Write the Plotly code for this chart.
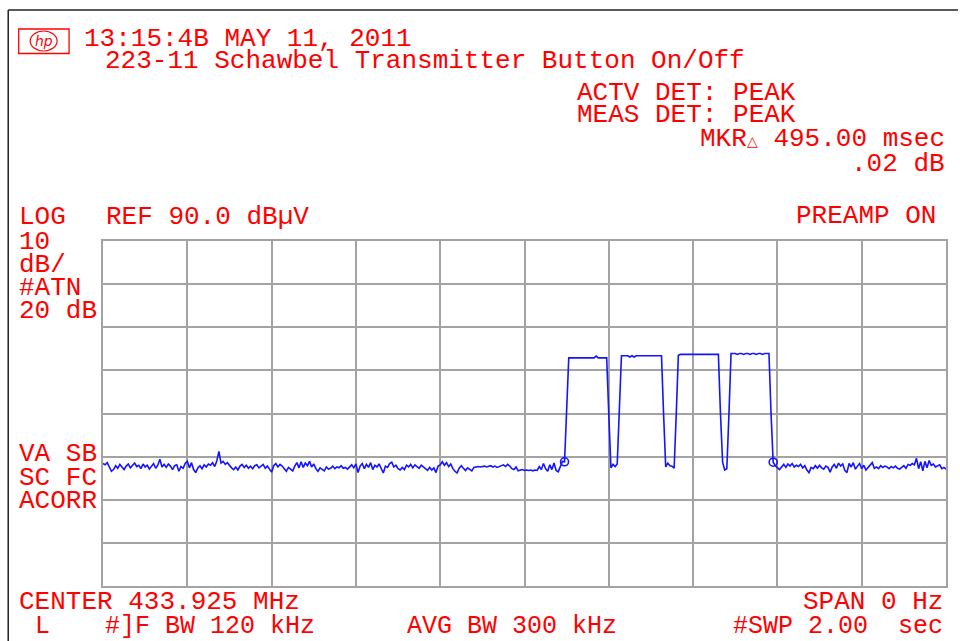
import numpy as np
import plotly.graph_objects as go

# ---------------- data ----------------
REF_LEVEL = 90.0          # dBuV, top of screen
DB_PER_DIV = 10
N_DIV_Y = 8
SWEEP_S = 2.00            # zero-span sweep time
N_POINTS = 401

# trace levels (dBuV), one per sweep point
noise_before = [
    38.4, 38.1, 38.6, 37.5, 36.6, 37.0, 37.9, 37.3, 38.2, 37.6,
    37.0, 37.8, 38.3, 37.4, 37.9, 38.5, 37.7, 38.0, 37.2, 38.3,
    37.6, 38.0, 37.1, 37.8, 38.4, 37.3, 38.0, 39.4, 37.6, 38.2,
    37.5, 38.3, 37.8, 37.0, 37.9, 38.1, 36.6, 37.7, 37.3, 38.4,
    38.9, 37.4, 38.6, 37.0, 36.3, 37.4, 37.9, 37.2, 38.1, 37.6,
    38.3, 38.0, 38.6, 37.7, 39.0, 41.2, 38.5, 38.9, 38.2, 38.6,
    37.9, 37.4, 37.0, 37.6, 36.9, 37.8, 38.2, 37.5, 38.0, 37.3,
    37.8, 37.2, 37.9, 38.1, 37.4, 37.7, 38.2, 37.3, 37.8, 37.1,
    36.4, 37.9, 38.4, 37.6, 38.2, 37.8, 37.3, 36.6, 37.5, 37.0,
    36.7, 37.8, 38.6, 37.4, 38.8, 37.5, 38.5, 37.9, 38.9, 37.6,
    38.3, 37.2, 36.6, 37.4, 37.0, 36.7, 37.6, 37.1, 37.3, 37.8,
    37.2, 37.6, 37.4, 37.9, 37.3, 37.5, 37.1, 37.7, 38.1, 37.4,
    38.3, 36.3, 37.8, 38.4, 37.2, 38.2, 37.5, 38.6, 37.0, 38.0,
    37.6, 38.3, 37.4, 36.2, 37.8, 37.5, 38.4, 38.7, 37.6, 38.0,
    37.2, 36.9, 37.5, 37.0, 38.0, 37.6, 38.2, 37.4, 38.1, 37.8,
    37.3, 38.0, 37.6, 37.2, 36.8, 37.5, 36.9, 37.4, 36.3, 37.8,
    38.1, 38.8, 38.0, 38.6, 37.7, 38.3, 37.2, 36.6, 36.2, 37.3,
    37.9, 37.3, 36.8, 37.4, 37.0, 36.7, 37.5, 37.6, 37.7, 37.6,
    37.7, 37.8, 37.6, 37.7, 37.9, 37.6, 37.8, 37.5, 37.7, 37.9,
    38.1, 37.7, 38.2, 37.8, 37.2, 37.0, 37.6, 36.7, 36.9, 37.0,
    36.8, 36.9, 36.8, 36.9, 36.7, 36.9, 36.8, 37.7, 37.0, 38.4,
    37.2, 36.6, 38.1, 37.0, 38.5, 36.8, 36.5, 37.6, 38.9, 38.8,
]
edge = [49.8]
pulse_1 = [62.9] * 13 + [63.3] + [62.9] * 5
gap_1 = [37.4, 38.2, 37.7, 38.3]
pulse_2 = [63.4, 63.4, 63.4, 63.4, 63.1, 63.4, 63.1, 63.4, 63.4, 63.4,
           63.4, 63.4, 63.4, 63.4, 63.4, 63.4, 63.4, 63.4, 63.4, 63.4]
gap_2 = [37.6, 38.5, 37.9, 37.8, 37.3]
pulse_3 = [63.5] + [63.7] * 19
gap_3 = [38.7, 36.9, 37.2]
pulse_4 = [63.9, 63.9, 63.9, 63.7, 63.9, 63.9, 63.7, 63.9, 63.9, 63.7,
           63.9, 63.9, 63.7, 63.9, 63.9, 63.7, 63.9, 63.9, 63.9]
marker_2_level = [38.7]
noise_after = [
    37.9, 37.4, 37.0, 37.6, 38.2, 37.5, 38.3, 37.8, 38.4, 37.6, 38.0,
    37.7, 38.2, 37.4, 37.9, 36.9, 36.3, 37.5, 37.2, 37.9, 37.3,
    38.0, 37.4, 37.1, 37.8, 37.5, 36.4, 37.6, 38.2, 37.3, 38.5,
    37.8, 38.3, 36.8, 36.3, 38.4, 37.6, 38.6, 37.1, 37.8, 38.4,
    37.2, 38.0, 36.9, 37.5, 38.1, 38.6, 37.3, 37.6, 37.2, 37.9,
    37.5, 37.8, 37.6, 37.2, 37.7, 37.4, 37.8, 37.3, 37.1, 37.6,
    37.9, 37.3, 38.2, 38.0, 38.4, 38.1, 39.6, 37.2, 38.8, 36.7,
    38.9, 37.4, 39.1, 38.0, 38.3, 37.6, 37.9, 38.1, 37.2, 37.5, 37.1,
]

level = (noise_before + edge + pulse_1 + edge + gap_1 + edge + pulse_2 + edge
         + gap_2 + edge + pulse_3 + edge + gap_3 + edge + pulse_4 + edge
         + marker_2_level + noise_after)
assert len(level) == N_POINTS, len(level)

time_s = np.linspace(0, SWEEP_S, N_POINTS)   # sweep-point times
marker_idx = [219, 318]                       # MKR and delta marker

# ---------------- figure ----------------
RED = "#ff0000"
BLUE = "#1414ff"
GRID = "#a3a3a3"
FONT = "Liberation Mono"

L, R, T, B = 103, 12, 241, 55
W, H = 960, 641
PW, PH = W - L - R, H - T - B


def px(x):
    return (x - L) / PW


def py(y):
    return (H - B - y) / PH


fig = go.Figure()
fig.add_trace(go.Scatter(x=time_s, y=level, mode="lines",
                         line=dict(color=BLUE, width=1.6), hoverinfo="skip"))
fig.add_trace(go.Scatter(x=[time_s[i] for i in marker_idx],
                         y=[level[i] for i in marker_idx], mode="markers",
                         marker=dict(symbol="circle-open", size=8, color=BLUE,
                                     line=dict(width=1.6, color=BLUE)),
                         hoverinfo="skip"))

axis_common = dict(showgrid=True, gridcolor=GRID, gridwidth=2,
                   showline=True, mirror=True, linecolor=GRID, linewidth=2,
                   showticklabels=False, ticks="", zeroline=False, fixedrange=True)
fig.update_xaxes(range=[0, SWEEP_S], dtick=SWEEP_S / 10, tick0=0, **axis_common)
fig.update_yaxes(range=[REF_LEVEL - DB_PER_DIV * N_DIV_Y, REF_LEVEL],
                 dtick=DB_PER_DIV, tick0=10, **axis_common)

ann = []


def txt(s, x, y, anchor="left", size=26):
    ann.append(dict(text=s, x=px(x), y=py(y), xref="paper", yref="paper",
                    xanchor=anchor, yanchor="middle", showarrow=False,
                    font=dict(family=FONT, size=size, color=RED)))


txt("13:15:4B MAY 11, 2011", 82, 39)
txt("223-11 Schawbel Transmitter Button On/Off", 103, 61)
txt("ACTV DET: PEAK", 576, 93)
txt("MEAS DET: PEAK", 576, 115)
txt("MKR<span style='font-size:14px'>△</span> 495.00 msec", 949, 139, anchor="right")
txt(".02 dB", 949, 164, anchor="right")
txt("LOG", 17, 217)
txt("REF 90.0 dBµV", 104, 217)
txt("PREAMP ON", 940, 216, anchor="right")
txt("10", 17, 242)
txt("dB/", 17, 265)
txt("#ATN", 17, 288)
txt("20 dB", 17, 311)
txt("VA SB", 17, 454)
txt("SC FC", 17, 478)
txt("ACORR", 17, 501)
txt("CENTER 433.925 MHz", 17, 602)
txt("SPAN 0 Hz", 947, 602, anchor="right")
txt("L", 33, 626, size=25)
txt("#]F BW 120 kHz", 103, 626, size=25)
txt("AVG BW 300 kHz", 406, 626, size=25)
txt("#SWP 2.00  sec", 947, 626, anchor="right", size=25)
ann.append(dict(text="<i>hp</i>", x=px(43.5), y=py(41), xref="paper", yref="paper",
                xanchor="center", yanchor="middle", showarrow=False,
                font=dict(family="DejaVu Sans", size=14, color=RED)))

shapes = [
    # outer frame
    dict(type="line", xref="paper", yref="paper", x0=px(8), x1=px(8),
         y0=py(10), y1=py(645), line=dict(color="#222222", width=1.5)),
    dict(type="line", xref="paper", yref="paper", x0=px(8), x1=px(960),
         y0=py(10), y1=py(10), line=dict(color="#222222", width=1.5)),
    # hp logo box
    dict(type="rect", xref="paper", yref="paper", x0=px(18.5), x1=px(69),
         y0=py(29), y1=py(53.5), line=dict(color=RED, width=1.3)),
    dict(type="circle", xref="paper", yref="paper", x0=px(30), x1=px(57),
         y0=py(31), y1=py(51), line=dict(color=RED, width=1.2)),
]

fig.update_layout(width=W, height=H, autosize=False,
                  margin=dict(l=L, r=R, t=T, b=B, pad=0),
                  paper_bgcolor="white", plot_bgcolor="white",
                  showlegend=False, annotations=ann, shapes=shapes)

fig.write_html("out.html",
               config={"displayModeBar": False, "staticPlot": True},
               post_script="document.body.style.margin='0px';"
                           "document.body.style.overflow='hidden';")
